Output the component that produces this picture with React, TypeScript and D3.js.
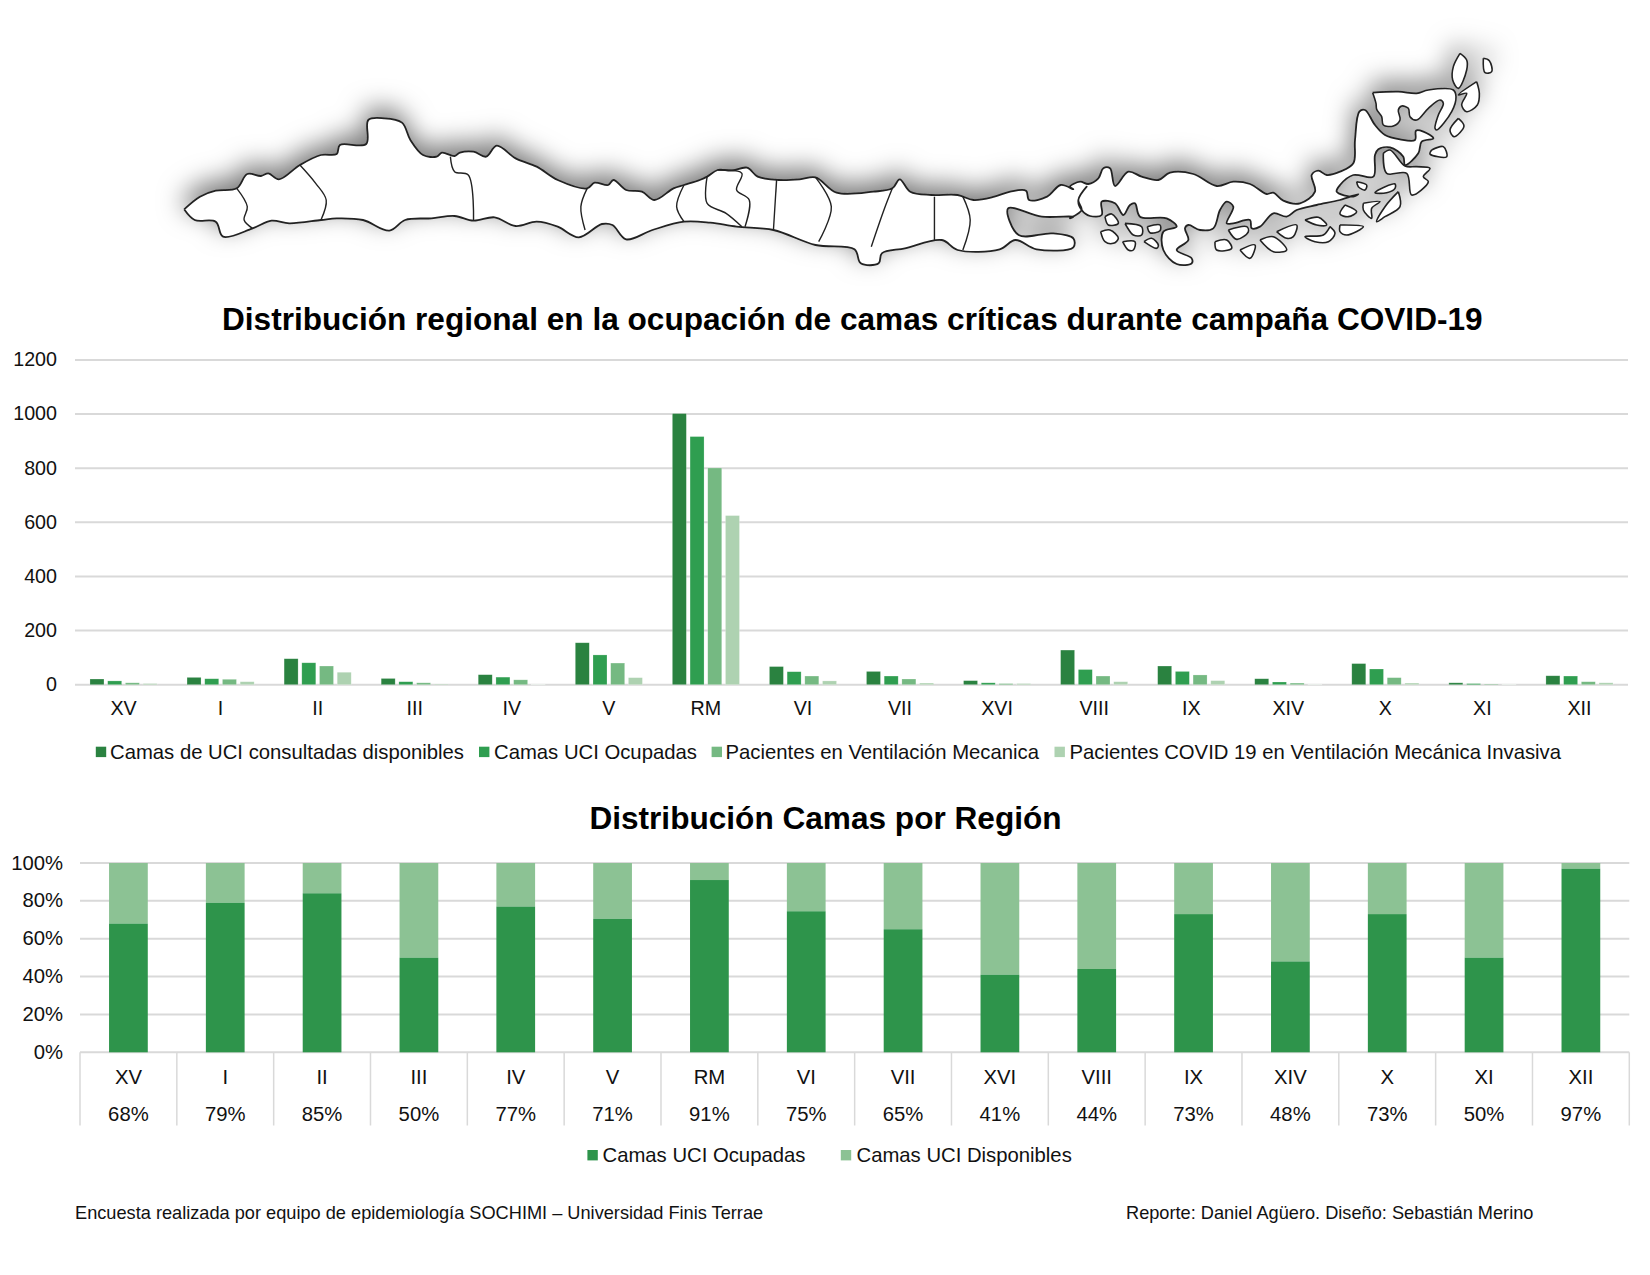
import React from "react";
import * as d3 from "d3";

const FONT = "'Liberation Sans', Arial, sans-serif";

const categoriesTop = ["XV","I","II","III","IV","V","RM","VI","VII","XVI","VIII","IX","XIV","X","XI","XII"];
const seriesNamesTop = [
  "Camas de UCI consultadas disponibles",
  "Camas UCI Ocupadas",
  "Pacientes en Ventilación Mecanica",
  "Pacientes COVID 19 en Ventilación Mecánica Invasiva",
];
const seriesColorsTop = ["#2a8240", "#2f9e50", "#75b982", "#aed2b1"];
const camasConsultadas = [21,27,96,23,37,155,1002,67,49,15,128,69,22,78,7,33];
const camasOcupadas = [14,22,81,11,28,110,917,48,32,7,56,49,10,58,4,32];
const ventilacion = [7,20,69,7,18,80,801,32,21,4,32,36,6,26,2,11];
const covidInvasiva = [4,11,46,2,1,26,625,14,6,4,11,15,1,6,1,7];
const seriesTop = [camasConsultadas, camasOcupadas, ventilacion, covidInvasiva];
const ticksTop = [0,200,400,600,800,1000,1200];

const pctOcupadas = [68,79,84,50,77,70.5,91,74.5,65,41,44,73,48,73,50,97];
const pctLabels = ["68%","79%","85%","50%","77%","71%","91%","75%","65%","41%","44%","73%","48%","73%","50%","97%"];
const ticksBottom = [0,20,40,60,80,100];

const titleTop = "Distribución regional en la ocupación de camas críticas durante campaña COVID-19";
const titleBottom = "Distribución Camas por Región";
const footerLeft = "Encuesta realizada por equipo de epidemiología SOCHIMI – Universidad Finis Terrae";
const footerRight = "Reporte: Daniel Agüero. Diseño: Sebastián Merino";

// Decorative map of Chile. West part traced in a 1568x900 sketch space over the whole strip.
const mapWestTop: [number, number][] = [
  [175,628],[190,590],[205,572],[225,565],[235,522],[248,528],[255,520],[265,538],[285,495],[305,465],[320,462],[323,435],[348,432],[350,360],[365,355],[382,368],[390,420],[402,465],[415,470],[420,458],[432,468],[437,458],[450,455],[462,470],[472,437],[490,475],[510,500],[530,540],[558,565],[565,548],[578,555],[583,540],[595,570],[610,575],[622,600],[640,565],[650,555],[665,540],[672,530],[682,510],[695,512],[710,503],[720,530],[740,540],[760,538],[775,532],[795,578],[830,575],[848,565],[855,538],[865,575],[885,585],[910,585],[925,600],[945,590],[960,575],[975,572],[978,600],[995,590],[1008,555],[1020,568],
];
const mapWestBottom: [number, number][] = [
  [1020,650],[990,650],[958,625],[968,705],[1000,700],[1020,715],[1020,742],[985,748],[965,720],[950,748],[910,750],[895,720],[860,745],[838,760],[835,790],[818,790],[812,748],[775,735],[735,690],[700,680],[675,668],[650,665],[620,690],[595,718],[582,675],[572,672],[550,712],[530,680],[510,665],[490,678],[470,652],[450,662],[432,648],[410,655],[385,660],[370,692],[345,660],[320,655],[305,660],[275,670],[258,662],[240,685],[212,710],[205,665],[185,660],[175,628],
];
// East part traced in a 1320x720 sketch space of the southern tip.
const mapEastMain: [number, number][] = [
  [0,440],[30,425],[55,432],[85,415],[100,385],[120,385],[135,438],[175,395],[215,410],[265,420],[300,398],[370,402],[440,438],[490,425],[540,432],[590,462],[610,458],[640,482],[690,490],[735,455],[725,405],[745,392],[770,405],[810,395],[850,370],[855,300],[868,215],[885,210],[915,255],[945,285],[990,298],[1035,300],[1038,272],[1060,275],[1090,295],[1055,305],[1045,340],[1005,375],[1000,350],[960,322],[925,328],[915,345],[910,410],[850,405],[810,435],[800,455],[850,470],[865,462],[810,480],[740,495],[680,510],[650,530],[610,520],[570,560],[545,565],[540,540],[490,550],[470,550],[490,500],[470,485],[450,510],[430,565],[390,570],[355,555],[345,565],[355,600],[320,630],[365,655],[365,670],[320,672],[280,630],[280,575],[320,560],[290,535],[210,530],[195,490],[180,495],[160,525],[135,490],[95,485],[95,525],[60,528],[35,510],[25,480],[50,440],[25,480],[35,510],[0,535],
];
const mapEastIslands: [number, number][][] = [
  [[1170,40],[1190,60],[1190,90],[1165,145],[1148,120],[1150,80],[1170,40]],
  [[1240,55],[1258,62],[1265,95],[1245,98],[1240,55]],
  [[1220,125],[1228,160],[1222,195],[1190,215],[1175,195],[1190,160],[1165,165],[1220,125]],
  [[908,158],[985,155],[1040,160],[1075,150],[1150,150],[1158,170],[1145,215],[1100,270],[1095,265],[1105,225],[1120,190],[1110,180],[1075,205],[1040,240],[1020,230],[1015,205],[995,198],[985,210],[990,240],[970,258],[940,255],[935,230],[920,208],[918,190],[908,158]],
  [[1165,235],[1182,258],[1152,290],[1140,270],[1165,235]],
  [[1085,330],[1120,320],[1130,350],[1080,342],[1085,330]],
  [[925,450],[975,432],[975,445],[950,458],[915,458],[925,450]],
  [[825,495],[860,515],[835,530],[810,522],[825,495]],
  [[880,490],[930,485],[905,505],[905,535],[880,510],[880,490]],
  [[985,455],[990,500],[945,530],[920,545],[945,500],[985,455]],
  [[810,555],[880,560],[830,585],[810,575],[810,555]],
  [[705,540],[745,532],[770,555],[740,555],[705,540]],
  [[780,560],[795,580],[775,605],[735,605],[705,590],[760,585],[780,560]],
  [[620,575],[680,555],[670,590],[650,595],[620,575]],
  [[570,600],[610,590],[650,630],[610,635],[570,600]],
  [[510,630],[555,615],[540,655],[510,630]],
  [[435,605],[470,600],[485,625],[440,630],[435,605]],
  [[475,570],[530,560],[535,575],[500,598],[475,570]],
  [[232,560],[270,555],[270,572],[240,578],[232,560]],
  [[165,550],[215,560],[215,585],[190,585],[165,550]],
  [[105,530],[125,522],[145,550],[115,555],[105,530]],
  [[92,575],[120,570],[145,595],[130,610],[105,605],[92,575]],
  [[158,605],[195,605],[190,630],[175,630],[158,605]],
  [[222,605],[245,595],[265,615],[260,625],[222,605]],
  [[940,340],[960,330],[1005,378],[1040,380],[1080,385],[1060,410],[1075,425],[1025,465],[1010,400],[950,400],[940,340]],
  [[860,425],[890,435],[885,450],[865,440],[860,425]],
];
const mapBorders: [number, number][][] = [
  [[225,565],[235,620],[232,660],[240,685]],
  [[285,495],[300,550],[310,600],[305,660]],
  [[428,470],[432,515],[445,525],[450,662]],
  [[558,565],[552,620],[556,690]],
  [[650,555],[643,620],[650,665]],
  [[672,530],[672,610],[690,640],[705,680]],
  [[682,510],[705,520],[700,570],[712,600],[708,680]],
  [[738,540],[735,690]],
  [[775,532],[790,620],[778,725]],
  [[848,565],[840,630],[828,740]],
  [[888,590],[888,720]],
  [[915,590],[922,660],[915,750]],
];

const W = 1650, H = 1275;

export default function App() {
  const xTop = d3.scaleBand<string>().domain(categoriesTop).range([75, 1628]);
  const inner = d3.scaleBand<number>().domain([0,1,2,3]).range([-33.55, 33.55]).paddingInner(0.21);
  const yTop = d3.scaleLinear().domain([0, 1200]).range([684.7, 360]);
  const xBot = d3.scaleBand<string>().domain(categoriesTop).range([80, 1629.3]).paddingInner(0.6).paddingOuter(0.3);
  const yBot = d3.scaleLinear().domain([0, 100]).range([1052.3, 863]);

  const mx = d3.scaleLinear().domain([0, 1568]).range([0, 1650]);
  const my = d3.scaleLinear().domain([0, 900]).range([0, 300]);
  const ex = d3.scaleLinear().domain([0, 1320]).range([1070, 1510]);
  const ey = d3.scaleLinear().domain([0, 720]).range([40, 280]);
  const toWest = (p: [number, number]): [number, number] => [mx(p[0]), my(p[1])];
  const toEast = (p: [number, number]): [number, number] => [ex(p[0]), ey(p[1])];
  const mapLine = d3.line<[number, number]>().curve(d3.curveCatmullRom.alpha(0.5));
  const outline = [...mapWestTop.map(toWest), ...mapEastMain.map(toEast), ...mapWestBottom.map(toWest)];

  const tickStyle = { fontFamily: FONT, fontSize: 19.7, fill: "#111" } as const;
  const labelStyle = { fontFamily: FONT, fontSize: 20.3, fill: "#111" } as const;
  const legendTop = [
    { sq: 95.8, tx: 110 },
    { sq: 479, tx: 494 },
    { sq: 711.6, tx: 725.5 },
    { sq: 1054.5, tx: 1069.5 },
  ];

  return (
    <svg width={W} height={H} viewBox={`0 0 ${W} ${H}`} style={{ position: "absolute", left: 0, top: 0, display: "block", background: "#fff" }}>
      <defs>
        <filter id="mapShadow" x="-5%" y="-40%" width="110%" height="180%">
          <feDropShadow dx={-2} dy={-9} stdDeviation={13} floodColor="#000" floodOpacity={0.52} />
        </filter>
      </defs>

      <g filter="url(#mapShadow)">
        <path d={mapLine(outline) || ""} fill="#fff" stroke="#222" strokeWidth={1.8} strokeLinejoin="round" />
        {mapEastIslands.map((p, i) => (
          <path key={i} d={mapLine(p.map(toEast)) || ""} fill="#fff" stroke="#222" strokeWidth={1.6} strokeLinejoin="round" />
        ))}
      </g>
      {mapBorders.map((p, i) => (
        <path key={i} d={mapLine(p.map(toWest)) || ""} fill="none" stroke="#222" strokeWidth={1.4} />
      ))}

      <text x={222} y={329.5} fontFamily={FONT} fontWeight="bold" fontSize={31.6} fill="#000">{titleTop}</text>

      {ticksTop.map(t => (
        <g key={t}>
          <line x1={75} x2={1628} y1={yTop(t)} y2={yTop(t)} stroke="#d9d9d9" strokeWidth={2} />
          <text x={57} y={yTop(t) + 6.3} textAnchor="end" {...tickStyle}>{t}</text>
        </g>
      ))}
      {categoriesTop.map((c, i) => {
        const cx = xTop(c)! + xTop.bandwidth() / 2;
        return (
          <g key={c}>
            {seriesTop.map((s, k) => (
              <rect key={k} x={cx + inner(k)!} y={yTop(s[i])} width={inner.bandwidth()} height={yTop(0) - yTop(s[i])}
                fill={seriesColorsTop[k]} stroke="#ffffff" strokeOpacity={0.35} strokeWidth={0.6} />
            ))}
            <text x={cx} y={715} textAnchor="middle" {...tickStyle}>{c}</text>
          </g>
        );
      })}
      {seriesNamesTop.map((n, k) => (
        <g key={n}>
          <rect x={legendTop[k].sq} y={746.7} width={10.4} height={10.4} fill={seriesColorsTop[k]} />
          <text x={legendTop[k].tx} y={759} {...labelStyle}>{n}</text>
        </g>
      ))}

      <text x={825.5} y={829} textAnchor="middle" fontFamily={FONT} fontWeight="bold" fontSize={31.6} fill="#000">{titleBottom}</text>

      {ticksBottom.map(t => (
        <g key={t}>
          <line x1={80} x2={1629.3} y1={yBot(t)} y2={yBot(t)} stroke="#d9d9d9" strokeWidth={2} />
          <text x={63} y={yBot(t) + 6.5} textAnchor="end" {...labelStyle}>{`${t}%`}</text>
        </g>
      ))}
      {categoriesTop.map((c, i) => {
        const x = xBot(c)!;
        const cx = x + xBot.bandwidth() / 2;
        const step = xBot.step();
        return (
          <g key={c}>
            <rect x={x} y={yBot(100)} width={xBot.bandwidth()} height={yBot(pctOcupadas[i]) - yBot(100)} fill="#8cc294" />
            <rect x={x} y={yBot(pctOcupadas[i])} width={xBot.bandwidth()} height={yBot(0) - yBot(pctOcupadas[i])} fill="#2e944b" />
            <line x1={cx - step / 2} x2={cx - step / 2} y1={yBot(0)} y2={1125.5} stroke="#d9d9d9" strokeWidth={1.5} />
            {i === categoriesTop.length - 1 && (
              <line x1={cx + step / 2} x2={cx + step / 2} y1={yBot(0)} y2={1125.5} stroke="#d9d9d9" strokeWidth={1.5} />
            )}
            <text x={cx} y={1083.5} textAnchor="middle" {...labelStyle}>{c}</text>
            <text x={cx} y={1121} textAnchor="middle" {...labelStyle}>{pctLabels[i]}</text>
          </g>
        );
      })}

      <rect x={587.4} y={1150} width={10.4} height={10.4} fill="#2e944b" />
      <text x={602.5} y={1161.5} {...labelStyle}>Camas UCI Ocupadas</text>
      <rect x={840.8} y={1150} width={10.4} height={10.4} fill="#8cc294" />
      <text x={856.5} y={1161.5} {...labelStyle}>Camas UCI Disponibles</text>

      <text x={75} y={1218.5} fontFamily={FONT} fontSize={18.2} fill="#111">{footerLeft}</text>
      <text x={1126} y={1218.5} fontFamily={FONT} fontSize={18.2} fill="#111">{footerRight}</text>
    </svg>
  );
}
